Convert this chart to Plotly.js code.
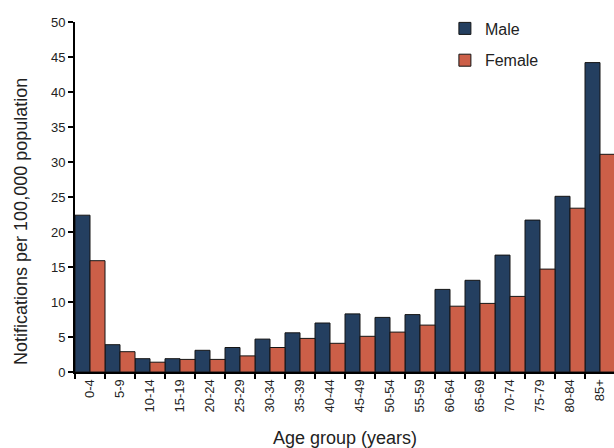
<!DOCTYPE html>
<html>
<head>
<meta charset="utf-8">
<script src="https://cdn.plot.ly/plotly-3.0.1.min.js"></script>
<style>
html,body{margin:0;padding:0;overflow:hidden;background:#fff;}
#chart{width:615px;height:448px;}
</style>
</head>
<body>
<div id="chart"></div>
<script>
var ageGroups = ["0-4","5-9","10-14","15-19","20-24","25-29","30-34","35-39","40-44","45-49","50-54","55-59","60-64","65-69","70-74","75-79","80-84","85+"];
var maleRates = [22.4, 3.9, 1.9, 1.9, 3.1, 3.5, 4.7, 5.6, 7.0, 8.3, 7.8, 8.2, 11.8, 13.1, 16.7, 21.7, 25.1, 44.2];
var femaleRates = [15.9, 2.9, 1.4, 1.8, 1.8, 2.3, 3.5, 4.8, 4.1, 5.1, 5.7, 6.7, 9.4, 9.8, 10.8, 14.7, 23.4, 31.1];
var yTicks = [0,5,10,15,20,25,30,35,40,45,50];

var traces = [
  {type:'bar', name:'Male', legendgroup:'male', x:ageGroups, y:maleRates,
   marker:{color:'#243f60', line:{color:'#151515', width:1}}},
  {type:'bar', name:'Female', legendgroup:'female', x:ageGroups, y:femaleRates,
   marker:{color:'#cc5f48', line:{color:'#151515', width:1}}}
];

var layout = {
  width:615, height:448,
  margin:{l:75, r:0, t:22, b:76},
  paper_bgcolor:'#fff', plot_bgcolor:'#fff',
  font:{family:'Liberation Sans, Arial, sans-serif', color:'#222'},
  barmode:'group', bargap:0, bargroupgap:0,
  showlegend:true,
  legend:{x:0.685, y:1.03, xanchor:'left', yanchor:'top', font:{size:16, color:'#222'},
          bgcolor:'rgba(0,0,0,0)', tracegroupgap:8, itemwidth:30},
  xaxis:{
    type:'category', showline:true, linecolor:'#000', linewidth:2,
    ticks:'outside', tickson:'boundaries', ticklen:5, tickcolor:'#000', tickwidth:1.5,
    tickangle:-90, tickfont:{size:13, color:'#222'},
    showgrid:false, zeroline:false,
    title:{text:'Age group (years)', font:{size:18, color:'#222'}, standoff:20}
  },
  yaxis:{
    range:[0,50], tickvals:yTicks, showline:true, linecolor:'#000', linewidth:2,
    ticks:'outside', ticklen:5, tickcolor:'#000', tickwidth:1.5,
    tickfont:{size:13, color:'#222'}, showgrid:false, zeroline:false
  },
  annotations:[
    {text:'Notifications per 100,000 population', xref:'paper', yref:'paper',
     x:-0.101, y:0.43, xanchor:'center', yanchor:'middle', textangle:-90,
     showarrow:false, font:{size:18, color:'#222'}}
  ]
};

Plotly.newPlot('chart', traces, layout, {displayModeBar:false, staticPlot:true});
</script>
</body>
</html>
